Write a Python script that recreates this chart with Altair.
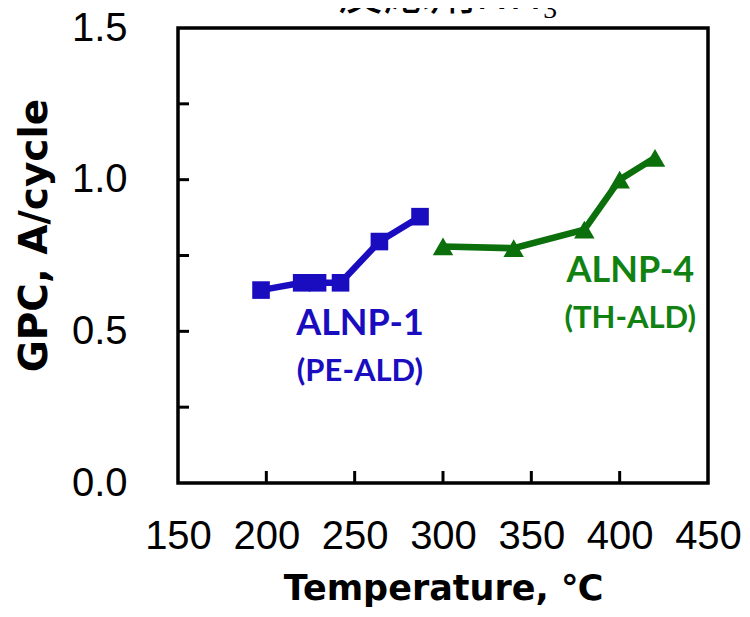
import altair as alt
import pandas as pd

# ---- data ----
pe_temp = [197, 220, 229, 242, 264, 287]
pe_gpc = [0.636, 0.66, 0.66, 0.66, 0.796, 0.878]
th_temp = [300, 340, 380, 400, 420]
th_gpc = [0.78, 0.774, 0.835, 1.0, 1.072]
series_names = ["ALNP-1", "ALNP-4"]
series_colors = ["#1a0dc0", "#0b6f0b"]
series_shapes = ["square", "triangle-up"]
series_sizes = [310, 420]

ann_text = ["ALNP-1", "(PE-ALD)", "ALNP-4", "(TH-ALD)"]
ann_temp = [253, 253, 406, 406]
ann_gpc = [0.525, 0.366, 0.70, 0.54]
ann_color = ["#1a0dc0", "#1a0dc0", "#118211", "#118211"]
ann_size = [36, 31, 36, 31]

title_text = ["反応剤NH₃"]

x_ticks = [150, 200, 250, 300, 350, 400, 450]
x_inner_ticks = [200, 250, 300, 350, 400]
y_ticks = [0.0, 0.5, 1.0, 1.5]
y_inner_ticks = [0.25, 0.5, 0.75, 1.0, 1.25]

W, H = 530, 455

df = pd.DataFrame({
    "T": pe_temp + th_temp,
    "G": pe_gpc + th_gpc,
    "series": [series_names[0]] * len(pe_temp) + [series_names[1]] * len(th_temp),
})
ann = pd.DataFrame({"t": ann_text, "T": ann_temp, "G": ann_gpc, "c": ann_color, "fs": ann_size})
xt = pd.DataFrame({"v": x_inner_ticks})
yt = pd.DataFrame({"v": y_inner_ticks})
tt = pd.DataFrame({"t": title_text})

xscale = alt.Scale(domain=[150, 450], nice=False, zero=False)
yscale = alt.Scale(domain=[0, 1.5], nice=False)

xaxis = alt.Axis(values=x_ticks, domain=False, ticks=False, grid=False,
                 labelFont="Liberation Sans", labelFontSize=40, labelColor="black",
                 labelPadding=33, labelFlush=False,
                 title="Temperature, ℃", titleFont="DejaVu Sans", titleFontWeight="bold",
                 titleFontSize=35, titleColor="black", titleY=88, titleBaseline="top")
yaxis = alt.Axis(values=y_ticks, format=".1f", domain=False, ticks=False, grid=False,
                 labelFont="Liberation Sans", labelFontSize=40, labelColor="black",
                 labelPadding=51, labelFlush=False,
                 title="GPC, A/cycle", titleFont="DejaVu Sans", titleFontWeight="bold",
                 titleFontSize=39, titleColor="black", titleX=-124, titleY=207)

color = alt.Color("series:N", scale=alt.Scale(domain=series_names, range=series_colors), legend=None)
shape = alt.Shape("series:N", scale=alt.Scale(domain=series_names, range=series_shapes), legend=None)
size = alt.Size("series:N", scale=alt.Scale(domain=series_names, range=series_sizes), legend=None)

lines = alt.Chart(df).mark_line(strokeWidth=6.5).encode(
    x=alt.X("T:Q", scale=xscale, axis=xaxis),
    y=alt.Y("G:Q", scale=yscale, axis=yaxis),
    color=color,
)
points = alt.Chart(df).mark_point(filled=True, opacity=1).encode(
    x=alt.X("T:Q", scale=xscale),
    y=alt.Y("G:Q", scale=yscale),
    color=color,
    shape=shape,
    size=size,
)
labels = alt.Chart(ann).mark_text(font="Lato", fontWeight="bold", baseline="middle", align="center").encode(
    x=alt.X("T:Q", scale=xscale),
    y=alt.Y("G:Q", scale=yscale),
    text="t:N",
    color=alt.Color("c:N", scale=None),
    size=alt.Size("fs:Q", scale=None),
)
title_layer = alt.Chart(tt).mark_text(font="Noto Sans CJK JP", fontSize=46, color="black",
                                      baseline="alphabetic", align="center").encode(
    text="t:N",
    x=alt.value(W / 2 + 5),
    y=alt.value(-19),
)
yticks_layer = alt.Chart(yt).mark_rule(color="black", strokeWidth=3).encode(
    y=alt.Y("v:Q", scale=yscale),
    x=alt.value(0), x2=alt.value(11),
)
xticks_layer = alt.Chart(xt).mark_rule(color="black", strokeWidth=3).encode(
    x=alt.X("v:Q", scale=xscale),
    y=alt.value(H), y2=alt.value(H - 12),
)

chart = alt.layer(lines, points, labels, title_layer, yticks_layer, xticks_layer).properties(
    width=W, height=H,
    autosize=alt.AutoSizeParams(type="none"),
    padding={"left": 170, "top": 20, "right": 34, "bottom": 126},
    background="white",
).configure_view(stroke="black", strokeWidth=3.5)

chart.save("out.html", embed_options={"renderer": "svg", "actions": False})
